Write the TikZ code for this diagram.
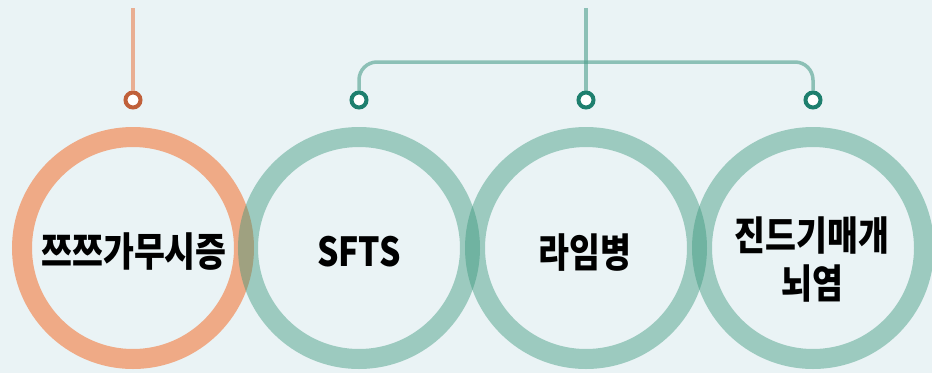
\documentclass[tikz,border=0pt]{standalone}
\usepackage{fontspec}
\newfontfamily\kr{Noto Sans CJK KR}
\definecolor{bg}{HTML}{EAF3F5}
\definecolor{ringO}{HTML}{EFAA86}
\definecolor{ringG}{HTML}{37967A}
\definecolor{pinO}{HTML}{C0603A}
\definecolor{pinG}{HTML}{1E7F6E}
\definecolor{lineO}{HTML}{E9AE92}
\definecolor{lineG}{HTML}{4E9F8C}
\newcommand{\cond}[1]{\scalebox{0.84}[1]{#1}}
\tikzset{
  ring/.style={circle, draw, line width=20pt, minimum size=222pt, inner sep=0pt},
  pin/.style={circle, draw, line width=4pt, fill=white, minimum size=15pt, inner sep=0pt},
  label/.style={font=\kr\bfseries\fontsize{40}{48}\selectfont, align=center, inner sep=0pt},
  conn/.style={line width=3.5pt},
}
\begin{document}
\begin{tikzpicture}[x=1pt,y=-1pt]
\fill[bg] (0,0) rectangle (932,373);
\useasboundingbox (0,0) rectangle (932,373);
% rings
\node[ring, draw=ringO] (cA) at (133,248) {};
\node[ring, draw=ringG, draw opacity=0.43] (cB) at (359,248) {};
\node[ring, draw=ringG, draw opacity=0.43] (cC) at (586,248) {};
\node[ring, draw=ringG, draw opacity=0.43] (cD) at (813,248) {};
% labels
\node[label] (tA) at (134,252) {\cond{쯔쯔가무시증}};
\node[label] (tB) at (359,252) {\cond{SFTS}};
\node[label] (tC) at (585,253) {\cond{라임병}};
\node[label] (tD) at (812,259) {\cond{진드기매개}\\\cond{뇌염}};
% pins
\node[pin, draw=pinO] (pA) at (133,100) {};
\node[pin, draw=pinG] (pB) at (359,100) {};
\node[pin, draw=pinG] (pC) at (586,100) {};
\node[pin, draw=pinG] (pD) at (813,100) {};
% connectors
\coordinate (topA) at (133,8);
\coordinate (topC) at (586,8);
\coordinate (brk) at (586,62);
\draw[conn, lineO, line width=4.5pt] (topA) -- (pA.north);
\draw[conn, lineG, draw opacity=0.6, rounded corners=18pt] (pB.north) |- (brk) -| (pD.north);
\draw[conn, lineG, draw opacity=0.6] (topC) -- (pC.north);
\end{tikzpicture}
\end{document}
